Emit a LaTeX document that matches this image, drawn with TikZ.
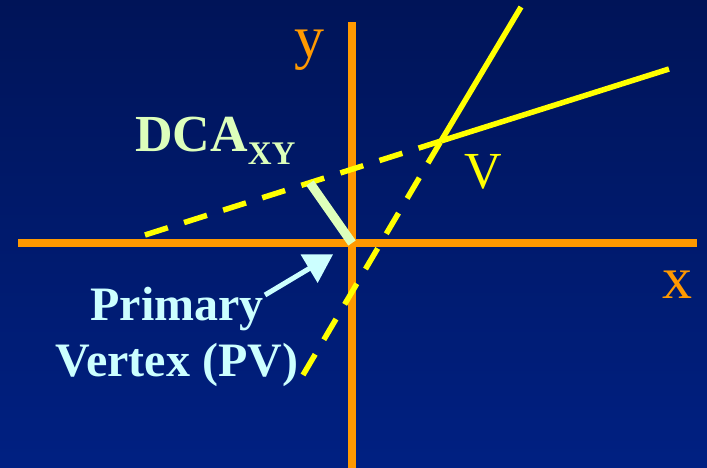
\documentclass[tikz,border=0pt]{standalone}
\usepackage{fontspec}
\setmainfont{Liberation Serif}
\usetikzlibrary{arrows.meta}
\definecolor{bgtop}{RGB}{0,20,88}
\definecolor{bgbottom}{RGB}{0,32,130}
\definecolor{axisorange}{RGB}{255,153,0}
\definecolor{trackyellow}{RGB}{255,255,0}
\definecolor{dcagreen}{RGB}{221,255,187}
\definecolor{pvcyan}{RGB}{204,255,255}

\begin{document}
\begin{tikzpicture}[
      x=1pt, y=-1pt,
      axis/.style={draw=axisorange, line width=8pt},
      track/.style={draw=trackyellow, line width=5.5pt},
      extrap/.style={track, dash pattern=on 24pt off 17pt},
      dcabar/.style={draw=dcagreen, line width=9pt},
      pointer/.style={draw=pvcyan, line width=5pt,
                      -{Triangle[length=28pt,width=32pt]}, shorten >=22pt},
      lbl/.style={inner sep=0pt, anchor=base}
    ]
    \shade[top color=bgtop, bottom color=bgbottom] (0,0) rectangle (707,468);
    \useasboundingbox (0,0) rectangle (707,468);

    \coordinate (pv)      at (352,243);
    \coordinate (v)       at (441,141);
    \coordinate (xl)      at (18,243);
    \coordinate (xr)      at (697,243);
    \coordinate (yt)      at (352,22);
    \coordinate (yb)      at (352,468);
    \coordinate (t1end)   at (521,7);
    \coordinate (t1start) at (303,375);
    \coordinate (t2start) at (145,235);
    \coordinate (t2end)   at (669,69);
    \coordinate (foot)    at (310,183);
    \coordinate (tail)    at (265,295);

    \draw[axis] (xl) -- (xr);
    \draw[axis] (yb) -- (yt);

    \draw[track]  (v) -- (t1end);
    \draw[extrap] (t1start) -- (v);
    \draw[extrap] (t2start) -- (v);
    \draw[track]  (v) -- (t2end);

    \draw[dcabar] (foot) -- (pv);

    \node[lbl, text=axisorange, font=\fontsize{60}{60}\selectfont] (ylab) at (309,58) {y};
    \node[lbl, text=axisorange, font=\fontsize{60}{60}\selectfont] (xlab) at (677,298) {x};
    \node[lbl, text=trackyellow, font=\fontsize{52}{52}\selectfont] (vlab) at (483,188) {V};
    \node[lbl, anchor=base west, text=dcagreen, font=\bfseries\fontsize{52}{52}\selectfont] (dcalab) at (135,152)
      {DCA\raisebox{-13pt}{\fontsize{33}{33}\selectfont XY}};
    \node[inner sep=0pt, anchor=north, align=center, text=pvcyan,
          font=\bfseries\fontsize{48}{56}\selectfont] (pvlab) at (177,287)
      {Primary\\Vertex (PV)};

    \draw[pointer] (tail) -- (pv);
  \end{tikzpicture}
\end{document}
